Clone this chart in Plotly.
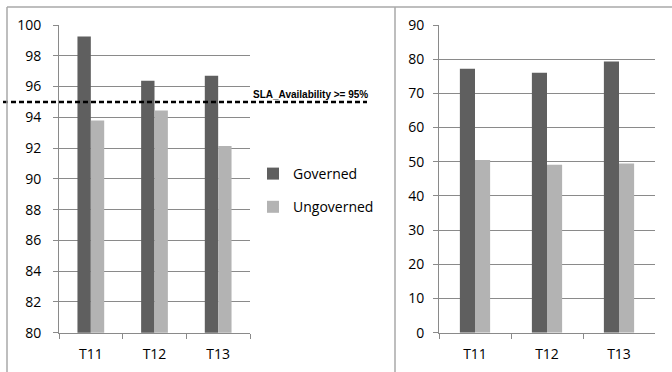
import plotly.graph_objects as go

# Data
categories = ["T11", "T12", "T13"]
series_names = ["Governed", "Ungoverned"]
availability_governed = [99.25, 96.37, 96.7]
availability_ungoverned = [93.8, 94.45, 92.13]
right_governed = [77.2, 76.0, 79.3]
right_ungoverned = [50.5, 49.1, 49.5]
sla_threshold = 95
sla_label = "SLA_Availability >= 95%"

left_y_ticks = list(range(80, 101, 2))
right_y_ticks = list(range(0, 91, 10))

W, H = 672, 372
colors = {"Governed": "#5f5f5f", "Ungoverned": "#b3b3b3"}
grid_color = "#8a8a8a"
frame_color = "#a8a8a8"
font_family = "Open Sans"


def px_x(px):
    return px / W


def px_y(py):
    return 1 - py / H


fig = go.Figure()

left_vals = {"Governed": availability_governed, "Ungoverned": availability_ungoverned}
right_vals = {"Governed": right_governed, "Ungoverned": right_ungoverned}

for name in series_names:
    fig.add_trace(go.Bar(
        x=categories, y=left_vals[name], name=name,
        marker=dict(color=colors[name], line=dict(width=0)),
        xaxis="x", yaxis="y", legendgroup=name, showlegend=True,
    ))
for name in series_names:
    fig.add_trace(go.Bar(
        x=categories, y=right_vals[name], name=name,
        marker=dict(color=colors[name], line=dict(width=0)),
        xaxis="x2", yaxis="y2", legendgroup=name, showlegend=False,
    ))

y_dom = [px_y(332.7), px_y(25)]

common_x = dict(
    type="category", showgrid=False, showline=True, linecolor=grid_color, linewidth=1,
    ticks="outside", tickson="boundaries", ticklen=5, tickcolor=grid_color,
    tickfont=dict(family=font_family, size=14, color="#000000"),
    ticklabelstandoff=8, fixedrange=True, automargin=False,
)
common_y = dict(
    showgrid=True, gridcolor=grid_color, gridwidth=1, showline=True,
    linecolor=grid_color, linewidth=1, ticks="outside", ticklen=5,
    tickcolor=grid_color, zeroline=False, automargin=False,
    tickfont=dict(family=font_family, size=14, color="#000000"),
)

fig.update_layout(
    width=W, height=H,
    margin=dict(l=0, r=0, t=0, b=0, autoexpand=False),
    paper_bgcolor="white", plot_bgcolor="white",
    barmode="group", bargap=0.58, bargroupgap=0,
    xaxis=dict(domain=[px_x(59), px_x(250)], anchor="y", **common_x),
    yaxis=dict(domain=y_dom, anchor="x", range=[80, 100], tickvals=left_y_ticks,
               ticklabelstandoff=9, **common_y),
    xaxis2=dict(domain=[px_x(439), px_x(655)], anchor="y2", **common_x),
    yaxis2=dict(domain=y_dom, anchor="x2", range=[0, 90], tickvals=right_y_ticks,
                ticklabelstandoff=6, **common_y),
    legend=dict(
        x=px_x(253), y=px_y(158), xanchor="left", yanchor="top",
        traceorder="grouped", tracegroupgap=12,
        font=dict(family=font_family, size=14, color="#000000"),
        bgcolor="rgba(0,0,0,0)", itemclick=False, itemdoubleclick=False,
    ),
    showlegend=True,
)

# SLA threshold line on the availability axis
fig.add_shape(
    type="line", xref="paper", yref="y",
    x0=px_x(3), x1=px_x(367), y0=sla_threshold, y1=sla_threshold,
    line=dict(color="#000000", width=2.5, dash="5px,3px"),
    layer="above",
)
fig.add_annotation(
    text="<b>" + sla_label + "</b>", xref="paper", yref="paper",
    x=px_x(251), y=px_y(94), xanchor="left", yanchor="middle",
    showarrow=False, font=dict(family="Liberation Sans", size=10, color="#000000"),
)

# Panel frames
frame_lines = [
    (7, 7, 7, H),        # left edge
    (7, 7, W, 7),        # top edge
    (395, 7, 395, H),    # divider between panels
]
for x0, y0, x1, y1 in frame_lines:
    fig.add_shape(
        type="line", xref="paper", yref="paper",
        x0=px_x(x0), y0=px_y(y0), x1=px_x(x1), y1=px_y(y1),
        line=dict(color=frame_color, width=1.5), layer="above",
    )

fig.write_html("out.html")
